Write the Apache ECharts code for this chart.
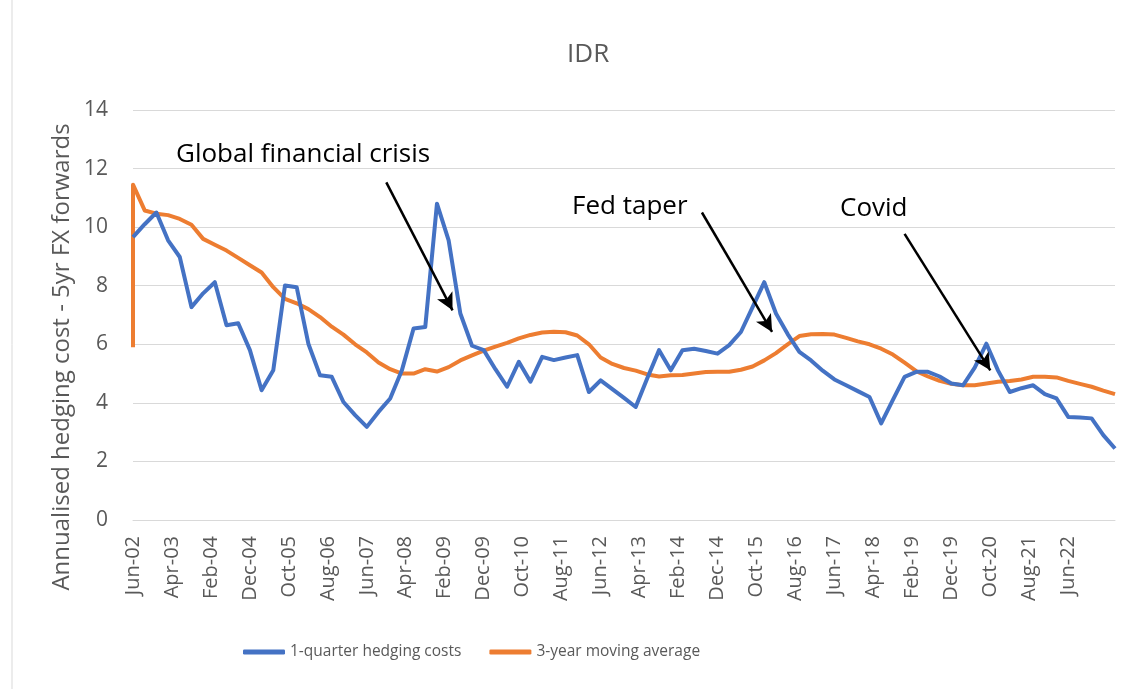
<!DOCTYPE html>
<html>
<head>
<meta charset="utf-8">
<script src="https://cdn.jsdelivr.net/npm/echarts@6/dist/echarts.min.js"></script>
<style>
  html, body { margin: 0; padding: 0; background: #fff; }
  #chart { width: 1134px; height: 689px; }
</style>
</head>
<body>
<div id="chart"></div>
<script>
// monthly axis, Jun-02 .. Jun-23; data points are quarterly (every 3rd month)
const monthNames = ['Jan', 'Feb', 'Mar', 'Apr', 'May', 'Jun', 'Jul', 'Aug', 'Sep', 'Oct', 'Nov', 'Dec'];
const categories = [];
for (let i = 0; i <= 252; i++) {
  const m = (5 + i) % 12;
  const y = 2 + Math.floor((5 + i) / 12);
  categories.push(monthNames[m] + '-' + String(y).padStart(2, '0'));
}

// 1-quarter hedging costs, Jun-02 .. Jun-23 (quarterly)
const hedgeCost = [
  9.66, 10.1, 10.5, 9.55, 8.98, 7.27, 7.74, 8.12, 6.65, 6.72,
  5.8, 4.43, 5.11, 8.01, 7.95, 6.02, 4.94, 4.89, 4.03, 3.58,
  3.18, 3.69, 4.15, 5.11, 6.54, 6.59, 10.8, 9.55, 7.05, 5.95,
  5.8, 5.15, 4.55, 5.4, 4.72, 5.57, 5.46, 5.55, 5.63, 4.37,
  4.77, 4.47, 4.17, 3.86, 4.85, 5.8, 5.11, 5.8, 5.85, 5.77,
  5.68, 5.97, 6.42, 7.27, 8.12, 7.05, 6.35, 5.74, 5.45, 5.1,
  4.8, 4.6, 4.4, 4.2, 3.3, 4.1, 4.89, 5.06, 5.06, 4.9,
  4.66, 4.6, 5.2, 6.02, 5.1, 4.37, 4.5, 4.6, 4.3, 4.15,
  3.52, 3.5, 3.47, 2.9, 2.44
];

// 3-year moving average (quarterly); first reading sits on the same date
const movingAvgStart = 5.9;
const movingAvg = [
  11.45, 10.57, 10.46, 10.41, 10.28, 10.08, 9.6, 9.4, 9.2, 8.95,
  8.7, 8.45, 7.95, 7.55, 7.4, 7.2, 6.93, 6.6, 6.33, 6.0,
  5.72, 5.38, 5.15, 5.0, 5.0, 5.15, 5.07, 5.22, 5.45, 5.62,
  5.78, 5.92, 6.05, 6.2, 6.32, 6.4, 6.43, 6.41, 6.3, 6.0,
  5.55, 5.33, 5.19, 5.1, 4.97, 4.9, 4.94, 4.95, 5.0, 5.05,
  5.06, 5.06, 5.13, 5.24, 5.45, 5.7, 6.0, 6.28, 6.34, 6.35,
  6.33, 6.22, 6.1, 6.0, 5.85, 5.65, 5.37, 5.08, 4.9, 4.75,
  4.65, 4.6, 4.6, 4.66, 4.72, 4.75, 4.8, 4.89, 4.89, 4.87,
  4.75, 4.65, 4.55, 4.42, 4.3
];

const yTicks = [0, 2, 4, 6, 8, 10, 12, 14];

// annotation arrows: [startMonthIdx, startVal, endMonthIdx, endVal]
const arrows = [
  [65, 11.53, 82, 7.16],
  [146, 10.5, 164, 6.42],
  [198, 9.77, 220, 5.11]
];

const blueData = hedgeCost.map((v, k) => [k * 3, v]);
const orangeData = [[0, movingAvgStart]].concat(movingAvg.map((v, k) => [k * 3, v]));

const FONT = '"Open Sans", sans-serif';
const GREY = '#595959';

const chart = echarts.init(document.getElementById('chart'));
chart.setOption({
  backgroundColor: '#fff',
  animation: false,
  textStyle: { fontFamily: FONT },
  title: {
    text: 'IDR',
    left: 562,
    top: 37,
    textStyle: { fontFamily: FONT, fontSize: 26, fontWeight: 'normal', color: GREY }
  },
  grid: { left: 133, right: 19, top: 110, bottom: 169 },
  legend: {
    left: 238,
    top: 639,
    itemWidth: 42,
    itemHeight: 5,
    itemGap: 28,
    icon: 'roundRect',
    textStyle: { fontFamily: FONT, fontSize: 15.5, color: GREY },
    data: ['1-quarter hedging costs', '3-year moving average']
  },
  xAxis: {
    type: 'category',
    data: categories,
    boundaryGap: false,
    axisLine: { lineStyle: { color: '#d9d9d9', width: 1 } },
    axisTick: { show: false },
    axisLabel: {
      rotate: 90,
      margin: 16,
      fontSize: 20,
      color: GREY,
      fontFamily: FONT,
      interval: (i) => i % 10 === 0 && i <= 240
    },
    splitLine: { show: false }
  },
  yAxis: {
    type: 'value',
    min: yTicks[0],
    max: yTicks[yTicks.length - 1],
    interval: 2,
    axisLine: { show: false },
    axisTick: { show: false },
    axisLabel: { fontSize: 21, color: GREY, margin: 25, fontFamily: FONT },
    splitLine: { lineStyle: { color: '#d9d9d9', width: 1 } }
  },
  graphic: [
    { type: 'line', shape: { x1: 12, y1: 0, x2: 12, y2: 689 }, style: { stroke: '#d9d9d9', lineWidth: 1 } },
    {
      type: 'text', x: 62, y: 357, rotation: Math.PI / 2,
      style: { text: 'Annualised hedging cost - 5yr FX forwards', font: '24px ' + FONT, fill: GREY, align: 'center', verticalAlign: 'middle' }
    },
    { type: 'text', x: 176, y: 155, style: { text: 'Global financial crisis', font: '26px ' + FONT, fill: '#000', verticalAlign: 'middle' } },
    { type: 'text', x: 572, y: 207, style: { text: 'Fed taper', font: '26px ' + FONT, fill: '#000', verticalAlign: 'middle' } },
    { type: 'text', x: 840, y: 209, style: { text: 'Covid', font: '26px ' + FONT, fill: '#000', verticalAlign: 'middle' } }
  ],
  series: [
    {
      name: '1-quarter hedging costs',
      type: 'line',
      data: blueData,
      showSymbol: false,
      symbol: 'none',
      lineStyle: { color: '#4472C4', width: 4, join: 'round' },
      itemStyle: { color: '#4472C4' },
      z: 3,
      markLine: {
        silent: true,
        symbol: ['none', 'arrow'],
        symbolSize: [13, 17],
        label: { show: false },
        lineStyle: { color: '#000', width: 2.5, type: 'solid' },
        data: arrows.map((a) => [{ coord: [a[0], a[1]] }, { coord: [a[2], a[3]] }])
      }
    },
    {
      name: '3-year moving average',
      type: 'line',
      data: orangeData,
      showSymbol: false,
      symbol: 'none',
      lineStyle: { color: '#ED7D31', width: 4, join: 'round' },
      itemStyle: { color: '#ED7D31' },
      z: 2
    }
  ]
});
</script>
</body>
</html>
